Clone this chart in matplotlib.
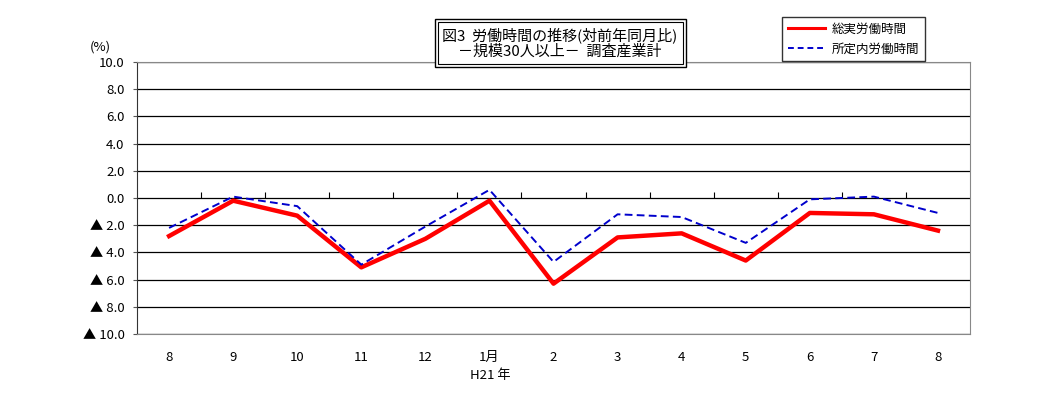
import matplotlib
matplotlib.use("Agg")
import matplotlib.pyplot as plt
from matplotlib.lines import Line2D
from matplotlib.patches import Rectangle

plt.rcParams['font.family'] = ['Noto Sans CJK JP', 'DejaVu Sans']

months = ["8", "9", "10", "11", "12", "1月", "2", "3", "4", "5", "6", "7", "8"]
total_hours = [-2.8, -0.2, -1.3, -5.1, -3.0, -0.2, -6.3, -2.9, -2.6, -4.6, -1.1, -1.2, -2.4]
scheduled_hours = [-2.2, 0.1, -0.6, -4.9, -2.1, 0.6, -4.7, -1.2, -1.4, -3.3, -0.1, 0.1, -1.1]
yticks = [10, 8, 6, 4, 2, 0, -2, -4, -6, -8, -10]

W, H = 1039, 407


def ylabel(v):
    if v < 0:
        return f"▲ {abs(v):.1f}"
    return f"{v:.1f}"


def fig_rect(x0, y0, x1, y1, **kw):
    # pixel box (top-left origin) -> figure coords
    return Rectangle((x0 / W, 1 - y1 / H), (x1 - x0) / W, (y1 - y0) / H,
                     transform=fig.transFigure, fill=False, **kw)


fig = plt.figure(figsize=(10.39, 4.07), dpi=100)
ax = fig.add_axes([0.1319, 0.1794, 0.8017, 0.6683])

x = list(range(len(months)))
ax.plot(x, total_hours, color="#ff0000", lw=3.2, zorder=3)
ax.plot(x, scheduled_hours, color="#0000cc", lw=1.4, ls=(0, (4, 2.2)), zorder=4)

ax.set_xlim(-0.5, len(months) - 0.5)
ax.set_ylim(-10, 10)
ax.set_yticks(yticks)
ax.set_yticklabels([ylabel(v) for v in yticks], fontsize=9.5)
for v in yticks:
    ax.axhline(v, color="black", lw=0.9, zorder=1)

ax.set_xticks(x)
ax.set_xticklabels(months, fontsize=9.5)
ax.tick_params(axis="x", length=0, pad=12)
ax.tick_params(axis="y", length=3, pad=6, color="#555555")

for side in ["top", "right", "bottom"]:
    ax.spines[side].set_color("#888888")
ax.spines["left"].set_color("#333333")

# category separator ticks on the zero line, pointing up
sec = ax.secondary_xaxis(0.5)
sec.set_xticks([i + 0.5 for i in range(len(months) - 1)])
sec.set_xticklabels([])
sec.tick_params(direction="out", length=4, color="black")
sec.spines["bottom"].set_visible(False)
sec.spines["top"].set_visible(False)

fig.text(0.097, 0.875, "(%)", fontsize=9.5, ha="center")
fig.text(0.472, 0.07, "H21 年", fontsize=9.5, ha="center")

# title box with double frame
fig.patches.append(fig_rect(435, 19, 686, 67, ec="black", lw=1.0, zorder=5))
fig.patches.append(fig_rect(438, 22, 683, 64, ec="black", lw=0.8, zorder=5))
fig.patches.append(Rectangle((435 / W, 1 - 67 / H), 251 / W, 48 / H,
                             transform=fig.transFigure, fc="white", ec="none", zorder=4))
fig.text(560 / W, 1 - 43 / H,
         "図3  労働時間の推移(対前年同月比)\n－規模30人以上－  調査産業計",
         fontsize=10.8, ha="center", va="center", linespacing=1.15, zorder=6)

handles = [Line2D([], [], color="#ff0000", lw=2.2),
           Line2D([], [], color="#0000cc", lw=1.4, ls=(0, (3, 2)))]
leg = fig.legend(handles, ["総実労働時間", "所定内労働時間"],
                 loc="upper left", bbox_to_anchor=(782 / W, 1 - 17 / H),
                 borderaxespad=0, fontsize=9, frameon=True, fancybox=False,
                 edgecolor="black", handlelength=3.0, borderpad=0.45,
                 labelspacing=0.55, handletextpad=0.5)
leg.get_frame().set_linewidth(1.0)
leg.set_zorder(6)

fig.savefig("out.png", dpi=100)
